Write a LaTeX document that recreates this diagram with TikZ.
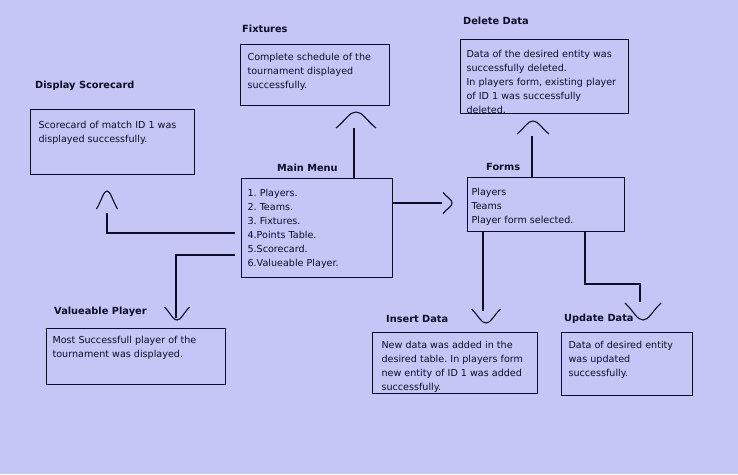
\documentclass[tikz,border=0pt]{standalone}
\usepackage{fontspec}
\setmainfont{DejaVu Sans}
\usepackage{tikz}
\usetikzlibrary{arrows.meta, positioning, calc}
\definecolor{menubg}{RGB}{198,198,246}
\definecolor{ink}{RGB}{12,12,40}
\newcommand{\cardtext}[3]{\parbox[t][#2pt][t]{#1pt}{\begin{tabular}[t]{@{}l@{}}#3\end{tabular}}}
\frenchspacing

\tikzset{
  card/.style={draw=ink, line width=1.1pt, anchor=north west, inner xsep=7pt, inner ysep=6pt, font=\fontsize{9.6}{14}\selectfont, text=ink},
  heading/.style={anchor=base west, inner sep=0pt, font=\fontsize{9.8}{12}\selectfont\bfseries, text=ink},
  link/.style={draw=ink, line width=1.1pt},
  pics/caret/.style args={#1/#2}{code={\draw[link] (-#1/2,#2) .. controls (-#1/4,#2/2) and (-#1/6,0) .. (0,0) .. controls (#1/6,0) and (#1/4,#2/2) .. (#1/2,#2);}}
}

\begin{document}
\begin{tikzpicture}[x=1pt, y=-1pt]
\useasboundingbox (0,0) rectangle (738,474);
\fill[menubg] (0,0) rectangle (738,474);

\node[card, inner xsep=6pt, inner ysep=8pt] (menu) at (241,178) {\cardtext{139}{83}{1. Players.\\2. Teams.\\3. Fixtures.\\4.Points Table.\\5.Scorecard.\\6.Valueable Player.}};
\node[heading] (menuhead) at (277,171) {Main Menu};

\node[card] (fix) at (240,44) {\cardtext{135}{49}{Complete schedule of the\\tournament displayed\\successfully.}};
\node[heading] (fixhead) at (242,32) {Fixtures};

\node[card, inner xsep=8pt, inner ysep=9pt] (score) at (30,109) {\cardtext{148}{47}{Scorecard of match ID 1 was\\displayed successfully.}};
\node[heading] (scorehead) at (35,88) {Display Scorecard};

\node[card, inner xsep=6pt, inner ysep=5pt] (vp) at (46,328) {\cardtext{167}{46}{Most Successfull player of the\\tournament was displayed.}};
\node[heading] (vphead) at (54,314) {Valueable Player};

\node[card, inner xsep=4pt, inner ysep=8pt] (forms) at (467,177) {\cardtext{149}{38}{Players\\Teams\\Player form selected.}};
\node[heading] (formshead) at (486,170) {Forms};

\node[card, inner xsep=6pt, inner ysep=8pt] (del) at (460,39) {\cardtext{156}{58}{Data of the desired entity was\\successfully deleted.\\In players form, existing player\\of ID 1 was successfully\\deleted.}};
\node[heading] (delhead) at (463,24) {Delete Data};

\node[card, inner xsep=9pt] (ins) at (372,332) {\cardtext{147}{49}{New data was added in the\\desired table. In players form\\new entity of ID 1 was added\\successfully.}};
\node[heading] (inshead) at (386,322) {Insert Data};

\node[card] (upd) at (561,332) {\cardtext{117}{51}{Data of desired entity\\was updated\\successfully.}};
\node[heading] (updhead) at (564,321) {Update Data};

\coordinate (fixend) at (354,128);
\coordinate (scoreend) at (107,213);
\coordinate (vpend) at (176,318);
\coordinate (formsend) at (442,203);
\coordinate (delend) at (532,136);
\coordinate (insend) at (483,311);
\coordinate (updend) at (640,302);

\draw[link] (menu.north -| fixend) -- (fixend);
\draw[link] ([shift={(-6,55)}]menu.north west) -| (scoreend);
\draw[link] ([shift={(-6,77)}]menu.north west) -| (vpend);
\draw[link] (menu.east |- formsend) -- (formsend);
\draw[link] (forms.north -| delend) -- (delend);
\draw[link] (forms.south -| insend) -- (insend);
\draw[link] ([xshift=118pt]forms.south west) |- ([yshift=18pt]updend) -- (updend);

\pic at (356,112) {caret=40/16};
\pic at (107,191) {caret=21/18};
\pic at (533,121) {caret=32/13};
\pic[rotate=-90] at (452,203) {caret=21/9};
\pic[rotate=180] at (177,320) {caret=25/13};
\pic[rotate=180] at (486,323) {caret=29/14};
\pic[rotate=180] at (643,320) {caret=36/17};
\end{tikzpicture}
\end{document}
